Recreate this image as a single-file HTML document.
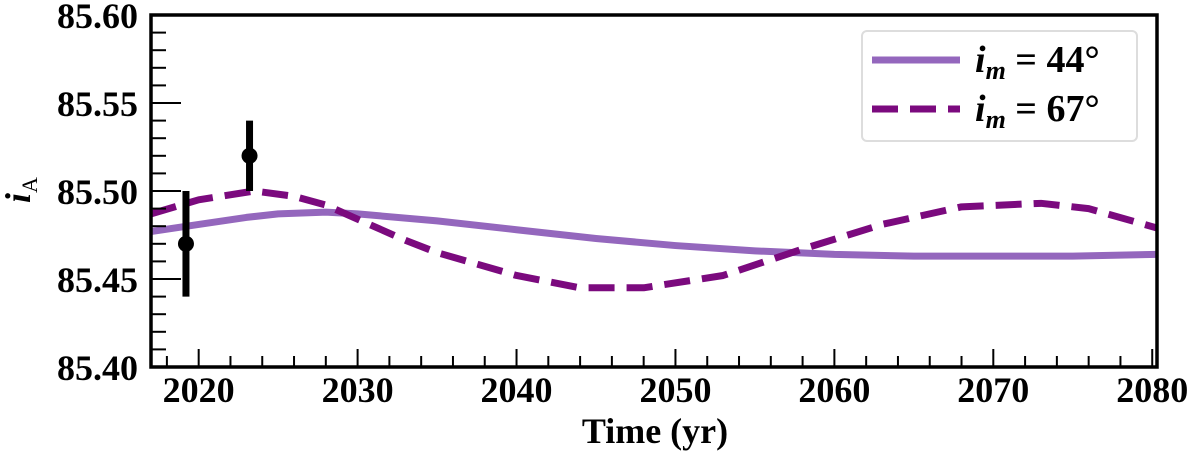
<!DOCTYPE html>
<html><head><meta charset="utf-8"><style>
body{margin:0;background:#fff;width:1200px;height:455px;overflow:hidden}
svg text{font-family:"Liberation Serif",serif;font-weight:bold;fill:#000}
</style></head><body>
<svg id="c" width="1200" height="455" xmlns="http://www.w3.org/2000/svg"></svg>
<script>
const solidYears=[2017,2020,2023,2025,2028,2030,2035,2040,2045,2050,2055,2060,2065,2070,2075,2080.3];
const solidVals=[85.477,85.481,85.485,85.487,85.488,85.487,85.483,85.478,85.473,85.469,85.466,85.464,85.463,85.463,85.463,85.464];
const dashYears=[2017,2020,2023.5,2026,2028,2030,2033,2035,2040,2044,2048,2053,2058,2063,2068,2073,2076,2080.3];
const dashVals=[85.487,85.495,85.500,85.497,85.492,85.484,85.472,85.465,85.452,85.445,85.445,85.452,85.467,85.481,85.491,85.493,85.490,85.479];
const obsYears=[2019.2,2023.2];
const obsVals=[85.47,85.52];
const obsErr=[0.03,0.02];
const xTicks=[2020,2030,2040,2050,2060,2070,2080];
const yTicks=[85.40,85.45,85.50,85.55,85.60];
const L=151,R=1157,T=15,B=367,X0=2017,X1=2080.3,Y0=85.40,Y1=85.60;
const xs=v=>L+(v-X0)/(X1-X0)*(R-L), ys=v=>B-(v-Y0)/(Y1-Y0)*(B-T);
const svg=document.getElementById('c');const NS='http://www.w3.org/2000/svg';
function mk(t,a,p){const e=document.createElementNS(NS,t);for(const k in a)e.setAttribute(k,a[k]);(p||svg).appendChild(e);return e;}
const clip=mk('clipPath',{id:'cp'});mk('rect',{x:L,y:T,width:R-L,height:B-T},clip);
const g=mk('g',{'clip-path':'url(#cp)'});
let e=mk('polyline',{points:solidYears.map((y,i)=>xs(y)+','+ys(solidVals[i])).join(' '),fill:'none',stroke:'#9467bd',"stroke-width":7,"stroke-linejoin":'round'},g);


e=mk('polyline',{points:dashYears.map((y,i)=>xs(y)+','+ys(dashVals[i])).join(' '),fill:'none',stroke:'#7b0a7e',"stroke-width":7,"stroke-dasharray":'26 12',"stroke-linejoin":'round'},g);


obsYears.forEach((y,i)=>{
 const gg=mk('g',{});
 
 
 mk('line',{x1:xs(y),x2:xs(y),y1:ys(obsVals[i]-obsErr[i]),y2:ys(obsVals[i]+obsErr[i]),stroke:'#000',"stroke-width":7},gg);
 mk('circle',{cx:xs(y),cy:ys(obsVals[i]),r:8,fill:'#000'},gg);
});
for(let y=2018;y<=2080;y+=2){const maj=y%10==0;mk('line',{x1:xs(y),x2:xs(y),y1:B,y2:B-(maj?18:11),stroke:'#000',"stroke-width":2});}
for(let k=0;k<=20;k++){const v=Y0+k*0.01;const maj=k%5==0;mk('line',{x1:L,x2:L+(maj?30:15),y1:ys(v),y2:ys(v),stroke:'#000',"stroke-width":2});}
xTicks.forEach(v=>{const t=mk('text',{x:xs(v),y:402,"font-size":36,"text-anchor":'middle'});t.textContent=v;
});
yTicks.forEach(v=>{const t=mk('text',{x:138,y:ys(v)+13,"font-size":36,"text-anchor":'end'});t.textContent=v.toFixed(2);
});
mk('rect',{x:L,y:T,width:R-L,height:B-T,fill:'none',stroke:'#000',"stroke-width":3.5});
let t=mk('text',{x:655,y:443,"font-size":36,"text-anchor":'middle'});t.textContent='Time (yr)';

t=mk('text',{x:0,y:0,"font-size":36,transform:'translate(30,190) rotate(-90)',"text-anchor":'middle'});
t.innerHTML='<tspan font-style="italic">i</tspan><tspan font-size="22" dy="7" font-weight="normal">A</tspan>';

const lg=mk('g',{});


mk('rect',{x:862,y:31,width:275,height:110,rx:5,fill:'#fff',stroke:'#ddd',"stroke-width":2},lg);
mk('line',{x1:872,x2:960,y1:60,y2:60,stroke:'#9467bd',"stroke-width":7},lg);
mk('line',{x1:872,x2:960,y1:109,y2:109,stroke:'#7b0a7e',"stroke-width":7,"stroke-dasharray":'26 12'},lg);
[['44',72],['67',121]].forEach(([d,y])=>{const tt=mk('text',{x:975,y:y,"font-size":38},lg);
tt.innerHTML='<tspan font-style="italic">i</tspan><tspan font-style="italic" font-size="26" dy="7">m</tspan><tspan dy="-7"> = '+d+'°</tspan>';
});
</script>
</body></html>
